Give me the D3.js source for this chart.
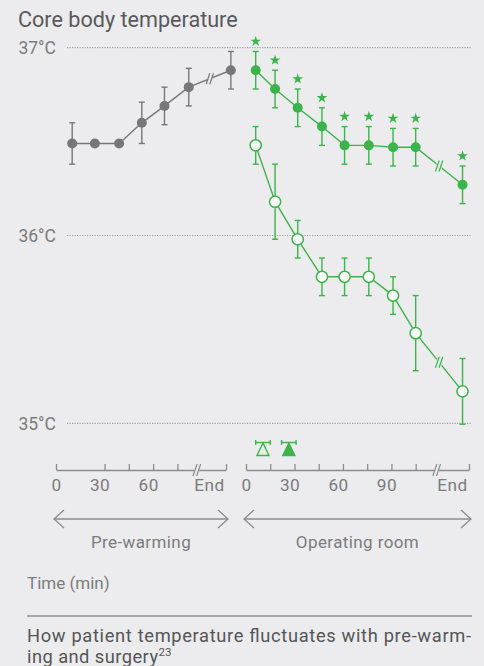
<!DOCTYPE html>
<html>
<head>
<meta charset="utf-8">
<script src="https://cdn.jsdelivr.net/npm/d3@7"></script>
<style>
body { margin: 0; background: #ececee; }
svg { display: block; font-family: Roboto, "DejaVu Sans", sans-serif; }
</style>
</head>
<body>
<div class="container"></div>
<script>
// pre-warming series, last point is "End"
var preTimes = [10, 24, 39, 53, 67, 82, 108];
var preTemps = [36.49, 36.49, 36.49, 36.60, 36.69, 36.79, 36.88];
var preErr = [0.11, 0, 0, 0.11, 0.10, 0.10, 0.10];

// operating room: pre-warmed (filled) and not pre-warmed (open), last point is "End"
var orTimes = [6, 18, 32, 47, 61, 76, 91, 105, 134];
var warmTemps = [36.88, 36.78, 36.68, 36.58, 36.48, 36.48, 36.47, 36.47, 36.27];
var warmErr = [0.10, 0.10, 0.10, 0.10, 0.10, 0.10, 0.10, 0.10, 0.10];
var coldTemps = [36.48, 36.18, 35.98, 35.78, 35.78, 35.78, 35.68, 35.48, 35.17];
var coldErr = [0.10, 0.20, 0.10, 0.10, 0.10, 0.10, 0.10, 0.20, 0.175];

// triangle markers under the chart (time +/- range)
var markerTimes = [10.5, 26.5];
var markerErr = [4.5, 4.5];
var markerFilled = [false, true];

var tempTicks = [35, 36, 37];
var preTicks = [0, 30, 45, 60, 75, 105];
var preTickLabels = ['0', '30', '', '60', '', 'End'];
var orTicks = [0, 15, 30, 45, 60, 75, 90, 105, 138];
var orTickLabels = ['0', '', '30', '', '60', '', '90', '', 'End'];
var preBreak = 87;
var orBreak = 118;

const WIDTH = 484;
const HEIGHT = 666;
const BG = '#ececee';
const GREEN = '#3cb44b';
const GREY = '#777779';
const AXIS = '#8c8c8e';
const LABEL = '#7b7b7d';
const AXIS_Y = 470;

var yScale = d3.scaleLinear().domain([35, 37]).range([423.3, 47.7]);
var preX = d3.scaleLinear().domain([0, 105]).range([56, 226]);
var orX = d3.scaleLinear().domain([0, 138]).range([246, 469]);

var svg = d3.select('.container').append('svg')
    .attr('width', WIDTH)
    .attr('height', HEIGHT);

svg.append('rect').attr('width', WIDTH).attr('height', HEIGHT).attr('fill', BG);

// title
svg.append('text')
    .attr('x', 18).attr('y', 27)
    .attr('font-size', 21.6)
    .attr('fill', '#59595b')
    .text('Core body temperature');

// grid lines + labels
var grid = svg.append('g');
grid.selectAll('line').data(tempTicks).enter().append('line')
    .attr('x1', 67).attr('x2', 472)
    .attr('y1', d => yScale(d)).attr('y2', d => yScale(d))
    .attr('stroke', '#a2a2a4')
    .attr('stroke-width', 1.2)
    .attr('stroke-dasharray', '1.2,1.3');
grid.selectAll('text').data(tempTicks).enter().append('text')
    .attr('x', 56).attr('y', d => yScale(d))
    .attr('dy', '0.36em')
    .attr('text-anchor', 'end')
    .attr('font-size', 17.5)
    .attr('fill', LABEL)
    .text(d => d + '°C');

// "//" break mark
var drawBreak = function (g, x, y, color, h) {
    g.append('rect')
        .attr('x', x - 2.5).attr('y', y - h / 2 + 2)
        .attr('width', 5).attr('height', h - 4)
        .attr('fill', BG);
    [-1.8, 1.8].forEach(function (o) {
        g.append('line')
            .attr('x1', x + o - h * 0.17).attr('y1', y + h / 2)
            .attr('x2', x + o + h * 0.17).attr('y2', y - h / 2)
            .attr('stroke', color).attr('stroke-width', 1.2);
    });
};

var drawSeries = function (xs, x, temps, errs, color, open, stars) {
    var g = svg.append('g');
    var pts = xs.map((t, i) => ({ t: t, v: temps[i], e: errs[i] }));

    var line = d3.line().x(d => x(d.t)).y(d => yScale(d.v));
    g.append('path')
        .attr('d', line(pts))
        .attr('fill', 'none')
        .attr('stroke', color)
        .attr('stroke-width', 1.4);

    var a = pts[pts.length - 2], b = pts[pts.length - 1];
    drawBreak(g, (x(a.t) + x(b.t)) / 2, (yScale(a.v) + yScale(b.v)) / 2, color, 11);

    var bars = g.append('g').selectAll('g')
        .data(pts.filter(d => d.e > 0))
        .enter().append('g')
        .attr('stroke', color)
        .attr('stroke-width', 1.4);
    bars.append('line')
        .attr('x1', d => x(d.t)).attr('x2', d => x(d.t))
        .attr('y1', d => yScale(d.v + d.e)).attr('y2', d => yScale(d.v - d.e));
    [1, -1].forEach(function (s) {
        bars.append('line')
            .attr('x1', d => x(d.t) - 3).attr('x2', d => x(d.t) + 3)
            .attr('y1', d => yScale(d.v + s * d.e)).attr('y2', d => yScale(d.v + s * d.e));
    });

    g.append('g').selectAll('circle')
        .data(pts)
        .enter().append('circle')
        .attr('r', open ? 5.6 : 5)
        .attr('cx', d => x(d.t))
        .attr('cy', d => yScale(d.v))
        .attr('fill', open ? '#fff' : color)
        .attr('stroke', open ? color : 'none')
        .attr('stroke-width', 1.5);

    if (stars) {
        g.append('g').selectAll('path')
            .data(pts)
            .enter().append('path')
            .attr('d', d3.symbol(d3.symbolStar, 36))
            .attr('transform', d => `translate(${x(d.t)}, ${yScale(d.v + d.e) - 10})`)
            .attr('fill', color);
    }
};

drawSeries(preTimes, preX, preTemps, preErr, GREY, false, false);
drawSeries(orTimes, orX, coldTemps, coldErr, GREEN, true, false);
drawSeries(orTimes, orX, warmTemps, warmErr, GREEN, false, true);

// triangle markers
var mk = svg.append('g');
markerTimes.forEach(function (t, i) {
    var cx = orX(t);
    var g = mk.append('g').attr('stroke', GREEN).attr('stroke-width', 1.4);
    g.append('line').attr('x1', orX(t - markerErr[i])).attr('x2', orX(t + markerErr[i]))
        .attr('y1', 442.5).attr('y2', 442.5);
    [-1, 1].forEach(function (s) {
        g.append('line').attr('x1', orX(t + s * markerErr[i])).attr('x2', orX(t + s * markerErr[i]))
            .attr('y1', 440).attr('y2', 445);
    });
    g.append('path')
        .attr('d', `M${cx},${443} L${cx + 6},${455.5} L${cx - 6},${455.5} Z`)
        .attr('fill', markerFilled[i] ? GREEN : 'none')
        .attr('stroke-linejoin', 'miter');
});

// x axes
var drawAxis = function (x, ticks, labels, brk) {
    var axis = d3.axisBottom(x)
        .tickValues(ticks)
        .tickFormat((d, i) => labels[i])
        .tickSizeInner(-6)
        .tickSizeOuter(0)
        .tickPadding(9);
    var g = svg.append('g')
        .attr('transform', `translate(0, ${AXIS_Y})`)
        .call(axis);
    g.attr('font-family', null).attr('font-size', 17.2);
    g.select('.domain').attr('stroke', AXIS).attr('stroke-width', 1.3);
    g.selectAll('.tick line').attr('stroke', AXIS).attr('stroke-width', 1.3);
    g.selectAll('.tick text')
        .attr('fill', LABEL)
        .attr('letter-spacing', 0.4)
        .attr('text-anchor', (d, i) => labels[i] === 'End' ? 'end' : 'middle')
        .attr('dx', (d, i) => labels[i] === 'End' ? -2 : (labels[i] === '0' ? 0 : -5));
    drawBreak(g, x(brk), 0, AXIS, 12);
};

drawAxis(preX, preTicks, preTickLabels, preBreak);
drawAxis(orX, orTicks, orTickLabels, orBreak);

// phase arrows
var phases = [
    { name: 'Pre-warming', x: preX },
    { name: 'Operating room', x: orX }
];
phases.forEach(function (p) {
    var r = p.x.range();
    var x0 = r[0] - 2, x1 = r[1] + 2, y = 519;
    var g = svg.append('g').attr('stroke', AXIS).attr('stroke-width', 1.3).attr('fill', 'none');
    g.append('line').attr('x1', x0).attr('x2', x1).attr('y1', y).attr('y2', y);
    g.append('path').attr('d', `M${x0 + 10},${y - 9} L${x0},${y} L${x0 + 10},${y + 9}`);
    g.append('path').attr('d', `M${x1 - 10},${y - 9} L${x1},${y} L${x1 - 10},${y + 9}`);
    svg.append('text')
        .attr('x', (x0 + x1) / 2).attr('y', 548)
        .attr('text-anchor', 'middle')
        .attr('font-size', 17)
        .attr('letter-spacing', 0.4)
        .attr('fill', LABEL)
        .text(p.name);
});

svg.append('text')
    .attr('x', 27).attr('y', 589)
    .attr('font-size', 17)
    .attr('fill', LABEL)
    .text('Time (min)');

svg.append('line')
    .attr('x1', 27).attr('x2', 472)
    .attr('y1', 616).attr('y2', 616)
    .attr('stroke', '#8f8f91').attr('stroke-width', 1.5);

var cap = svg.append('text')
    .attr('font-size', 18.3)
    .attr('fill', '#555557');
cap.append('tspan').attr('x', 27).attr('y', 641.5)
    .attr('textLength', 444).attr('lengthAdjust', 'spacing')
    .text('How patient temperature fluctuates with pre-warm-');
cap.append('tspan').attr('x', 27).attr('y', 662.5)
    .attr('letter-spacing', 0.45)
    .text('ing and surgery');
cap.append('tspan').attr('font-size', 11.5).attr('dy', -7).text('23');
</script>
</body>
</html>
